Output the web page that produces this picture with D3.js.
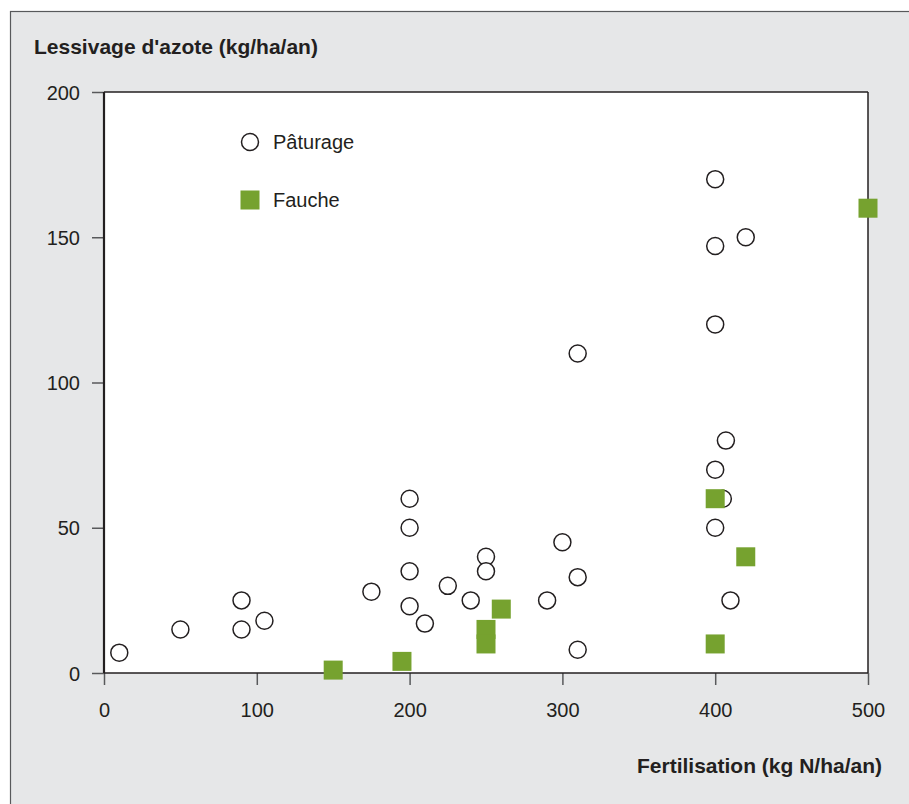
<!DOCTYPE html>
<html>
<head>
<meta charset="utf-8">
<script src="https://cdn.jsdelivr.net/npm/d3@7"></script>
<style>
  body { margin: 0; background: #fff; }
  text { font-family: "Liberation Sans", Arial, sans-serif; fill: #231f20; }
</style>
</head>
<body>
<div id="scatter"></div>
<script>
// Pâturage (circles)
var paturageX = [10, 50, 90, 90, 105, 175, 200, 200, 200, 200, 210, 225, 240, 250, 250, 290, 300, 310, 310, 310,
                 400, 400, 420, 400, 407, 400, 405, 400, 410];
var paturageY = [7, 15, 25, 15, 18, 28, 60, 50, 35, 23, 17, 30, 25, 40, 35, 25, 45, 33, 8, 110,
                 170, 147, 150, 120, 80, 70, 60, 50, 25];
// Fauche (squares)
var faucheX = [150, 195, 250, 250, 260, 400, 400, 420, 500];
var faucheY = [1, 4, 15, 10, 22, 10, 60, 40, 160];

var xTicks = [0, 100, 200, 300, 400, 500];
var yTicks = [0, 50, 100, 150, 200];
var legendLabels = ["Pâturage", "Fauche"];

var svgWidth = 909;
var svgHeight = 804;
var margin = { top: 92, left: 104, right: 41, bottom: 131 };
var width = svgWidth - margin.left - margin.right;
var height = svgHeight - margin.top - margin.bottom;

var svg = d3.select("#scatter")
    .append("svg")
    .attr("width", svgWidth)
    .attr("height", svgHeight);

// grey panel
svg.append("rect")
    .attr("x", 10.5)
    .attr("y", 11.5)
    .attr("width", svgWidth)
    .attr("height", svgHeight)
    .attr("fill", "#e6e7e8")
    .attr("stroke", "#58595b")
    .attr("stroke-width", 1.2);

var chartGroup = svg.append("g")
    .attr("transform", `translate(${margin.left}, ${margin.top})`);

var xScale = d3.scaleLinear().domain([0, 500]).range([0, width]);
var yScale = d3.scaleLinear().domain([0, 200]).range([height, 0]);

chartGroup.append("rect")
    .attr("width", width)
    .attr("height", height)
    .attr("fill", "#fff");

// axes
var xAxis = d3.axisBottom(xScale).tickValues(xTicks).tickSize(12).tickPadding(18).tickSizeOuter(0);
var yAxis = d3.axisLeft(yScale).tickValues(yTicks).tickSize(12).tickPadding(12).tickSizeOuter(0);

var gx = chartGroup.append("g")
    .attr("transform", `translate(0, ${height})`)
    .call(xAxis);
var gy = chartGroup.append("g").call(yAxis);

[gx, gy].forEach(function(g) {
  g.select(".domain").remove();
  g.selectAll("line").attr("stroke", "#58595b").attr("stroke-width", 1.5);
  g.selectAll("text").attr("font-size", "20px").attr("fill", "#231f20")
    .style("font-family", "'Liberation Sans', Arial, sans-serif");
});
gy.selectAll("text").attr("dy", "0.36em");

// frame
chartGroup.append("line").attr("x1", 0).attr("x2", width).attr("y1", 0).attr("y2", 0)
    .attr("stroke", "#231f20").attr("stroke-width", 1.5);
chartGroup.append("line").attr("x1", width).attr("x2", width).attr("y1", 0).attr("y2", height)
    .attr("stroke", "#231f20").attr("stroke-width", 1.5);
chartGroup.append("line").attr("x1", 0).attr("x2", width).attr("y1", height).attr("y2", height)
    .attr("stroke", "#231f20").attr("stroke-width", 1.5);
chartGroup.append("line").attr("x1", 0).attr("x2", 0).attr("y1", 0).attr("y2", height)
    .attr("stroke", "#231f20").attr("stroke-width", 2.2);

var green = "#76a22f";
var sq = 19;

chartGroup.selectAll(".pat")
    .data(d3.range(paturageX.length))
    .enter()
    .append("circle")
    .attr("class", "pat")
    .attr("cx", i => xScale(paturageX[i]))
    .attr("cy", i => yScale(paturageY[i]))
    .attr("r", 8.5)
    .attr("fill", "#fff")
    .attr("stroke", "#231f20")
    .attr("stroke-width", 1.5);

chartGroup.selectAll(".fau")
    .data(d3.range(faucheX.length))
    .enter()
    .append("rect")
    .attr("class", "fau")
    .attr("x", i => xScale(faucheX[i]) - sq / 2)
    .attr("y", i => yScale(faucheY[i]) - sq / 2)
    .attr("width", sq)
    .attr("height", sq)
    .attr("fill", green);

// legend
var legend = svg.append("g").attr("transform", "translate(250, 142)");
legend.append("circle")
    .attr("r", 8.5)
    .attr("fill", "#fff")
    .attr("stroke", "#231f20")
    .attr("stroke-width", 1.5);
legend.append("rect")
    .attr("x", -sq / 2)
    .attr("y", 58 - sq / 2)
    .attr("width", sq)
    .attr("height", sq)
    .attr("fill", green);
legend.selectAll(".lab")
    .data(legendLabels)
    .enter()
    .append("text")
    .attr("x", 23)
    .attr("y", (d, i) => i * 58)
    .attr("dy", "0.36em")
    .attr("font-size", "20px")
    .text(d => d);

// titles
svg.append("text")
    .attr("x", 34)
    .attr("y", 54)
    .attr("font-size", "21px")
    .attr("font-weight", "bold")
    .text("Lessivage d'azote (kg/ha/an)");

svg.append("text")
    .attr("x", 882)
    .attr("y", 773)
    .attr("text-anchor", "end")
    .attr("font-size", "21px")
    .attr("font-weight", "bold")
    .text("Fertilisation (kg N/ha/an)");
</script>
</body>
</html>
